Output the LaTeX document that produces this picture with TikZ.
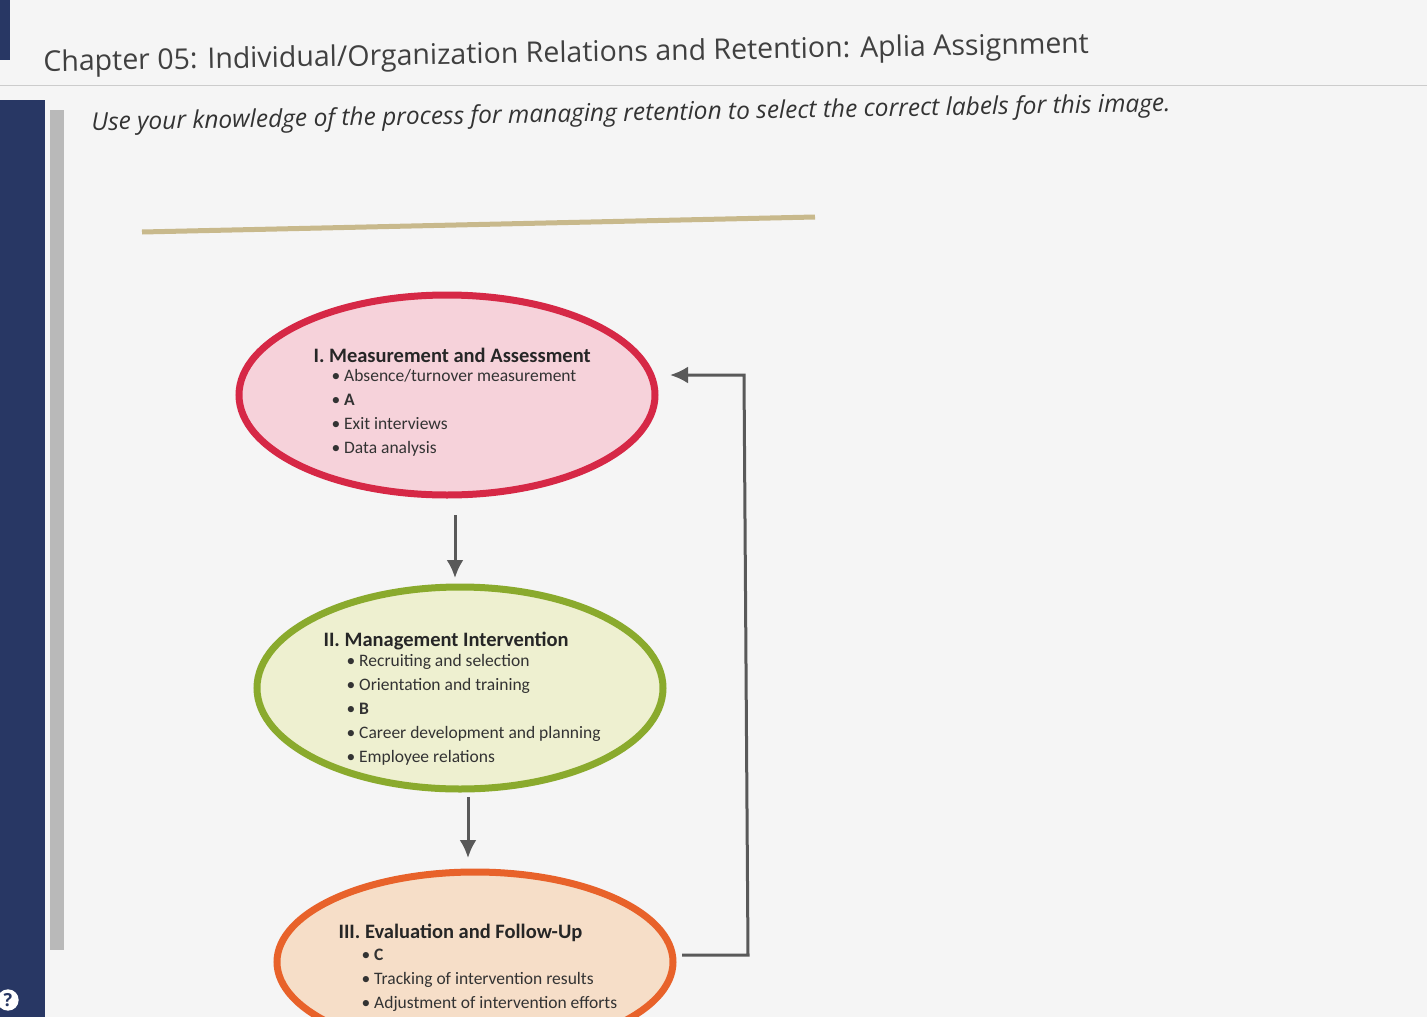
\documentclass[tikz,border=0pt]{standalone}
\usepackage{fontspec}
\usetikzlibrary{arrows.meta}
\setmainfont{Open Sans}
\newfontfamily\calfont{Carlito}
\definecolor{side}{RGB}{40,55,100}
\begin{document}
\begin{tikzpicture}[x=1pt,y=-1pt,
  ell/.style={line width=7pt},
  flow/.style={draw=black!65,line width=3pt,-{Latex[length=18pt,width=17pt]}},
  head/.style={font=\calfont\bfseries\fontsize{20.5}{24}\selectfont,text=black!85},
  item/.style={font=\calfont\fontsize{17.5}{24}\selectfont,text=black!80,align=left,anchor=north west}]
\useasboundingbox (0,0) rectangle (1427,1017);
\fill[gray!8] (0,0) rectangle (1427,1017);
\fill[side] (0,0) rectangle (10,60);
\fill[side] (0,100) rectangle (45,1017);
\fill[gray!55] (50,110) rectangle (64,950);
\draw[gray!40] (0,85) -- (1427,85);
\node[circle,fill=white,inner sep=2pt,font=\bfseries\fontsize{18}{18}\selectfont,text=side] (q) at (8,1000) {?};
\node[anchor=west,font=\fontsize{28.5}{30}\selectfont,text=black!75,rotate=1] (title) at (40,64) {Chapter 05: Individual/Organization Relations and Retention: Aplia Assignment};
\node[anchor=west,font=\itshape\fontsize{24.5}{26}\selectfont,text=black!80,rotate=1] (sub) at (88,124) {Use your knowledge of the process for managing retention to select the correct labels for this image.};
\coordinate (l1) at (142,232); \coordinate (l2) at (815,217);
\draw[line width=5pt,color={rgb,255:red,200;green,185;blue,140}] (l1) -- (l2);
\filldraw[ell,draw={rgb,255:red,214;green,40;blue,70},fill={rgb,255:red,246;green,210;blue,218}] (447,395) ellipse [x radius=208,y radius=100];
\filldraw[ell,draw={rgb,255:red,138;green,170;blue,45},fill={rgb,255:red,238;green,240;blue,208}] (460,688) ellipse [x radius=203,y radius=101];
\filldraw[ell,draw={rgb,255:red,232;green,98;blue,42},fill={rgb,255:red,246;green,222;blue,200}] (475,962) ellipse [x radius=198,y radius=90];
\node[head,anchor=west] (h1) at (310,355) {I. Measurement and Assessment};
\node[item] (i1) at (328,366) {• Absence/turnover measurement\\• \textbf{A}\\• Exit interviews\\• Data analysis};
\node[head,anchor=west] (h2) at (320,641) {II. Management Intervention};
\node[item] (i2) at (343,651) {• Recruiting and selection\\• Orientation and training\\• \textbf{B}\\• Career development and planning\\• Employee relations};
\node[head,anchor=west] (h3) at (335,933) {III. Evaluation and Follow-Up};
\node[item] (i3) at (358,945) {• \textbf{C}\\• Tracking of intervention results\\• Adjustment of intervention efforts};
\coordinate (a1) at (455,515); \coordinate (b1) at (455,578);
\coordinate (a2) at (468,797); \coordinate (b2) at (468,858);
\draw[flow] (a1) -- (b1);
\draw[flow] (a2) -- (b2);
\coordinate (f1) at (682,955); \coordinate (f2) at (748,955); \coordinate (f3) at (744,375); \coordinate (f4) at (670,375);
\draw[flow] (f1) -- (f2) -- (f3) -- (f4);
\end{tikzpicture}
\end{document}
